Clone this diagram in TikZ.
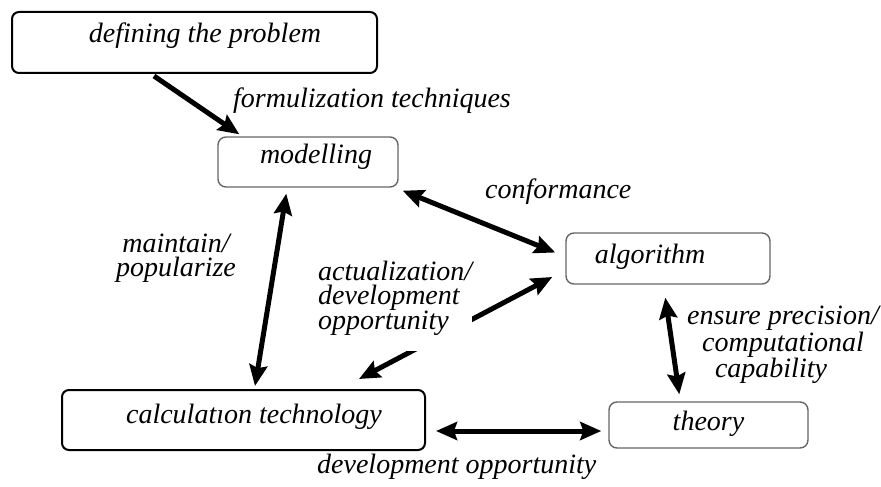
\documentclass[tikz,border=0pt]{standalone}
\usepackage{fontspec}
\setmainfont{Liberation Serif}
\usetikzlibrary{arrows.meta,calc}
\begin{document}
\begin{tikzpicture}[x=1pt,y=-1pt,
  lbl/.style={font=\fontsize{28}{23.5}\selectfont\itshape, inner sep=0pt},
  stage/.style={lbl, draw=black, line width=2pt, rounded corners=7pt,
    text height=19pt, text depth=6pt},
  substage/.style={lbl, draw=black!60, line width=1.4pt, rounded corners=8pt,
    text height=19pt, text depth=6pt},
  head/.tip={Stealth[length=21pt,width=18pt,inset=3pt]},
  link/.style={line width=5pt, -head},
  dlink/.style={line width=5pt, head-head},
]
\useasboundingbox (0,0) rectangle (881,487);

% boxes
\node[stage, minimum width=365pt, minimum height=61pt] (def) at (194.5,42.5)
  {\hspace*{21pt}\raisebox{6pt}{defining the problem}};
\node[substage, minimum width=180pt, minimum height=50pt] (mod) at (308,162)
  {\hspace*{16pt}\raisebox{5.5pt}{modelling}};
\node[substage, minimum width=204pt, minimum height=51pt] (alg) at (668,258.5)
  {\raisebox{2pt}{algorithm}\hspace*{36pt}};
\node[stage, minimum width=363pt, minimum height=60pt] (tech) at (243.5,420)
  {\hspace*{21pt}\raisebox{3.5pt}{calculatıon technology}};
\node[substage, minimum width=199pt, minimum height=46pt] (thy) at (708.5,425)
  {\raisebox{1.5pt}{theory}};

% connectors
\draw[link] ($(def.south west)+(143,2)$) -- ($(mod.north west)+(22,-2)$);
\draw[dlink] ($(mod.south east)+(4,3)$) -- ($(alg.west)+(-10,-6)$);
\draw[dlink] ($(tech.north west)+(298,-10)$) -- ($(alg.west)+(-13,18.5)$);
\draw[dlink] ($(mod.south west)+(69,6)$) -- ($(tech.north west)+(194,-3)$);
\draw[dlink] ($(alg.south west)+(100,13)$) -- ($(thy.north west)+(71,-7)$);
\draw[dlink] ($(tech.east)+(10,11)$) -- ($(thy.west)+(-7,6)$);

% labels
\node[lbl, anchor=base west] (formul) at (233,107) {formulization techniques};
\node[lbl, anchor=base west] (conf) at (485,198) {conformance};
\node[lbl, anchor=north, align=center] (maint) at (176,234) {maintain/\\popularize};
\node[lbl, anchor=north west, align=left, fill=white] (actual) at (318,261)
  {actualization/\\development\\opportunity\rule[-21pt]{0pt}{1pt}};
\node[lbl, anchor=north, align=center] (ensure) at (783,306)
  {ensure precision/\\computational\\capability\hspace*{24pt}};
\node[lbl, anchor=base west] (devopp) at (317,473) {development opportunity};
\end{tikzpicture}
\end{document}
